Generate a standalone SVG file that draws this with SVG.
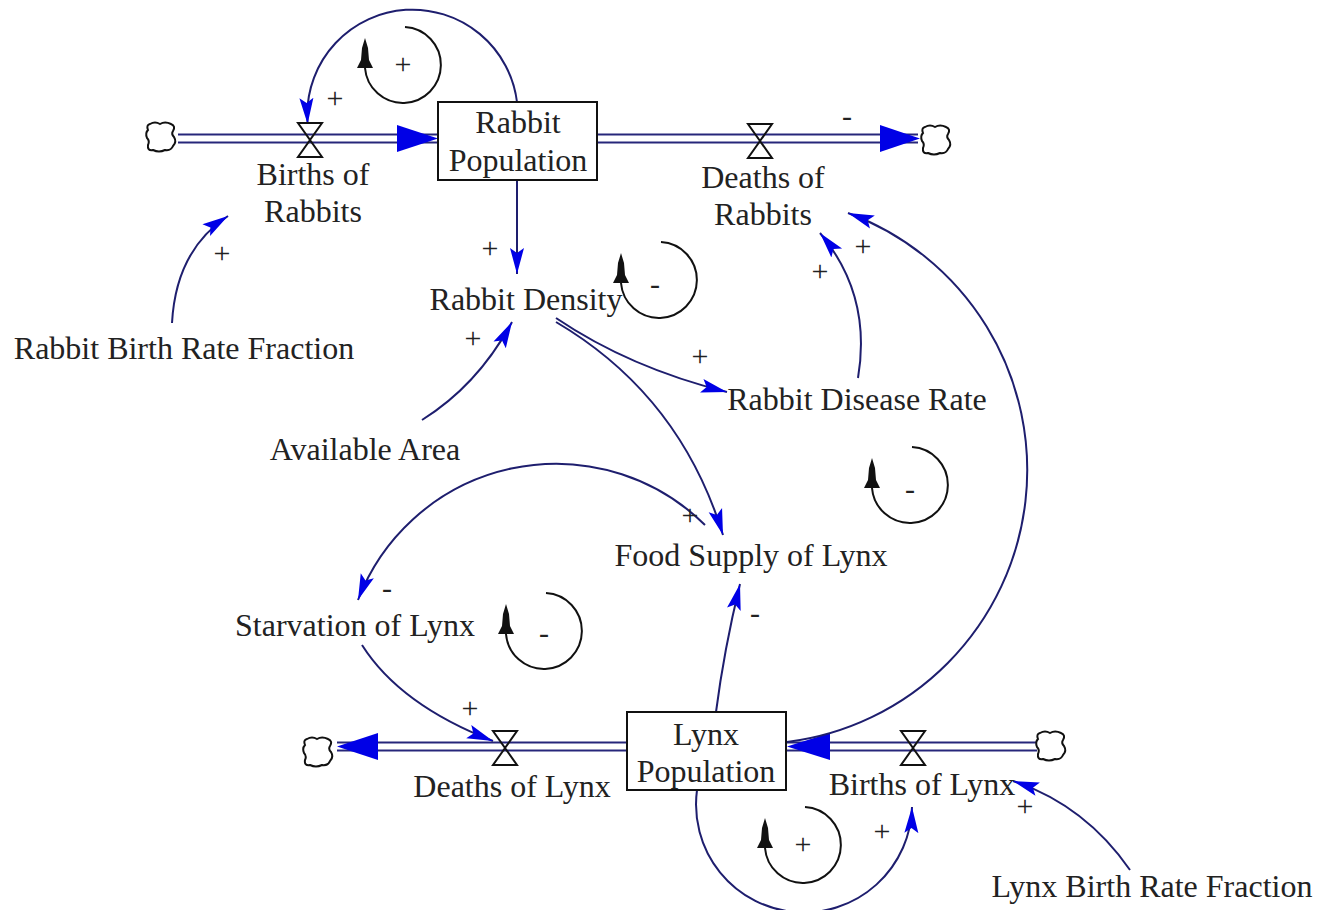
<svg xmlns="http://www.w3.org/2000/svg" width="1322" height="910" viewBox="0 0 1322 910">
  <defs>
    <style>
      .lbl{font-family:"Liberation Serif","Times New Roman",serif;font-size:32px;fill:#222;text-anchor:middle}
      .sign{font-family:"Liberation Serif","Times New Roman",serif;font-size:30px;fill:#222;text-anchor:middle}
      .link{fill:none;stroke:#1e1e6e;stroke-width:2;marker-end:url(#ah)}
      .pipe-out{fill:none;stroke:#26267a;stroke-width:10}
      .pipe-in{fill:none;stroke:#fff;stroke-width:6}
      .flowhead{fill:#0000e6}
      .valve{fill:none;stroke:#111;stroke-width:2}
      .cloud{fill:#fff;stroke:#111;stroke-width:2}
      .box{fill:#fff;stroke:#111;stroke-width:2}
      .loop{fill:none;stroke:#111;stroke-width:2}
      .loophead{fill:#111}
    </style>
    <marker id="ah" markerUnits="userSpaceOnUse" markerWidth="30" markerHeight="16" viewBox="0 0 30 16" refX="26" refY="8" orient="auto">
      <path d="M0,1 L26,8 L0,15 L5,8 Z" fill="#0000e6"/>
    </marker>
    <path id="cloud" class="cloud" d="M-11,-13 Q-6,-16 -1,-13 Q4,-16 10,-13 Q15,-11 12,-6 Q10,-3 13,0 Q16,5 12,9 Q10,14 4,13 Q-2,16 -8,13 Q-14,14 -13,8 Q-11,4 -14,1 Q-16,-4 -13,-7 Q-15,-12 -11,-13 Z"/>
    <path id="valve" class="valve" d="M-12,-17 L12,-17 L0,0 L12,17 L-12,17 L0,0 Z"/>
    <path id="loophead" class="loophead" d="M0,-30 L3,-20 L4,-8 L8,0 L-8,0 L-4,-8 L-3,-20 Z"/>
  </defs>

  <rect width="1322" height="910" fill="#fff"/>

  <!-- connectors: material pipes and causal links -->
  <g id="connectors">
    <path class="pipe-out" d="M178,138.5 H438 M597,138.5 H918 M337,746.5 H627 M786,746.5 H1037"/>
    <path class="pipe-in" d="M178,138.5 H438 M597,138.5 H918 M337,746.5 H627 M786,746.5 H1037"/>
    <polygon class="flowhead" points="438,138.5 397,125 397,152"/>
    <polygon class="flowhead" points="920,138.5 880,125 880,152"/>
    <polygon class="flowhead" points="337,746.5 378,733 378,760"/>
    <polygon class="flowhead" points="787,746.5 830,733 830,760"/>

    <path class="link" d="M517,102 A105.3,105.3 0 0 0 307.2,115.3 L307.6,124"/>
    <path class="link" d="M172,323 Q176,250 228,216"/>
    <path class="link" d="M517,180 V274"/>
    <path class="link" d="M422,420 Q478,385 512,322"/>
    <path class="link" d="M556,318 Q630,368 727,392"/>
    <path class="link" d="M556,322 Q680,395 723,535"/>
    <path class="link" d="M858,378 Q872,295 820,233"/>
    <path class="link" d="M787,742 A274,274 0 0 0 848,213"/>
    <path class="link" d="M705,525 A212,212 0 0 0 358,600"/>
    <path class="link" d="M716,712 Q724,650 740,584"/>
    <path class="link" d="M362,645 Q400,705 493,741"/>
    <path class="link" d="M697,790 A108,108 0 1 0 912,807"/>
    <path class="link" d="M1130,870 Q1085,805 1013,781"/>

    <!-- link polarities -->
    <text class="sign" x="335" y="108">+</text>
    <text class="sign" x="222" y="263">+</text>
    <text class="sign" x="490" y="258">+</text>
    <text class="sign" x="473" y="348">+</text>
    <text class="sign" x="700" y="366">+</text>
    <text class="sign" x="863" y="256">+</text>
    <text class="sign" x="820" y="281">+</text>
    <text class="sign" x="847" y="126">-</text>
    <text class="sign" x="690" y="525">+</text>
    <text class="sign" x="387" y="598">-</text>
    <text class="sign" x="755" y="623">-</text>
    <text class="sign" x="470" y="718">+</text>
    <text class="sign" x="882" y="841">+</text>
    <text class="sign" x="1025" y="816">+</text>
  </g>

  <!-- sources and sinks -->
  <g id="clouds">
    <use href="#cloud" x="161" y="137"/>
    <use href="#cloud" x="936" y="140"/>
    <use href="#cloud" x="318" y="752"/>
    <use href="#cloud" x="1051" y="746"/>
  </g>

  <g id="rabbit-population">
    <rect class="box" x="438" y="102" width="159" height="78"/>
    <text class="lbl" x="518" y="133">Rabbit</text>
    <text class="lbl" x="518" y="171">Population</text>
  </g>

  <g id="births-of-rabbits">
    <use href="#valve" x="310" y="140"/>
    <text class="lbl" x="313" y="185">Births of</text>
    <text class="lbl" x="313" y="222">Rabbits</text>
  </g>

  <g id="deaths-of-rabbits">
    <use href="#valve" x="760" y="141"/>
    <text class="lbl" x="763" y="188">Deaths of</text>
    <text class="lbl" x="763" y="225">Rabbits</text>
  </g>

  <g id="rabbit-birth-rate-fraction">
    <text class="lbl" x="184" y="359">Rabbit Birth Rate Fraction</text>
  </g>

  <g id="rabbit-density">
    <text class="lbl" x="526" y="310">Rabbit Density</text>
  </g>

  <g id="rabbit-disease-rate">
    <text class="lbl" x="857" y="410">Rabbit Disease Rate</text>
  </g>

  <g id="available-area">
    <text class="lbl" x="365" y="460">Available Area</text>
  </g>

  <g id="food-supply-of-lynx">
    <text class="lbl" x="751" y="566">Food Supply of Lynx</text>
  </g>

  <g id="starvation-of-lynx">
    <text class="lbl" x="355" y="636">Starvation of Lynx</text>
  </g>

  <g id="lynx-population">
    <rect class="box" x="627" y="712" width="159" height="78"/>
    <text class="lbl" x="706" y="745">Lynx</text>
    <text class="lbl" x="706" y="782">Population</text>
  </g>

  <g id="deaths-of-lynx">
    <use href="#valve" x="505" y="748"/>
    <text class="lbl" x="512" y="797">Deaths of Lynx</text>
  </g>

  <g id="births-of-lynx">
    <use href="#valve" x="913" y="748"/>
    <text class="lbl" x="922" y="795">Births of Lynx</text>
  </g>

  <g id="lynx-birth-rate-fraction">
    <text class="lbl" x="1152" y="897">Lynx Birth Rate Fraction</text>
  </g>

  <!-- feedback loop markers -->
  <g id="loops">
    <g id="loop-rabbit-births" transform="translate(403,65)">
      <path class="loop" d="M2,-38 A38,38 0 1 1 -38,3"/>
      <use href="#loophead" x="-38" y="3"/>
      <text class="sign" x="0" y="9">+</text>
    </g>
    <g id="loop-rabbit-density" transform="translate(659,280)">
      <path class="loop" d="M2,-38 A38,38 0 1 1 -38,3"/>
      <use href="#loophead" x="-38" y="3"/>
      <text class="sign" x="-4" y="14">-</text>
    </g>
    <g id="loop-predation" transform="translate(910,485)">
      <path class="loop" d="M2,-38 A38,38 0 1 1 -38,3"/>
      <use href="#loophead" x="-38" y="3"/>
      <text class="sign" x="0" y="14">-</text>
    </g>
    <g id="loop-starvation" transform="translate(544,631)">
      <path class="loop" d="M2,-38 A38,38 0 1 1 -38,3"/>
      <use href="#loophead" x="-38" y="3"/>
      <text class="sign" x="0" y="12">-</text>
    </g>
    <g id="loop-lynx-births" transform="translate(803,845)">
      <path class="loop" d="M2,-38 A38,38 0 1 1 -38,3"/>
      <use href="#loophead" x="-38" y="3"/>
      <text class="sign" x="0" y="9">+</text>
    </g>
  </g>
</svg>
